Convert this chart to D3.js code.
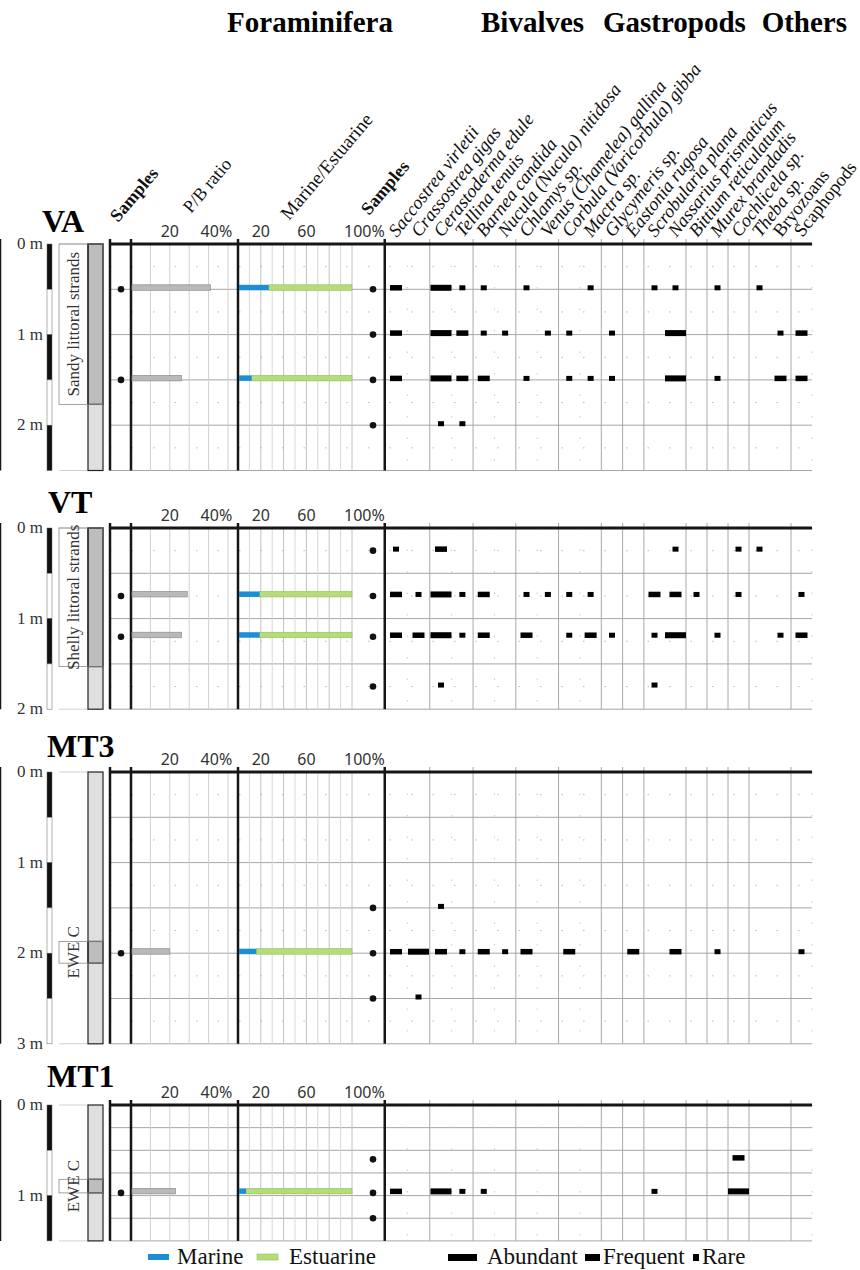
<!DOCTYPE html>
<html lang="en">
<head>
<meta charset="UTF-8">
<title>Foraminifera and mollusc assemblages</title>
<script src="https://d3js.org/d3.v7.min.js"></script>
<style>
  body { margin: 0; background: #fff; }
</style>
</head>
<body>
<svg id="chart" width="860" height="1270"></svg>
<script>
// ---------- data ----------
const groupTitles = ["Bivalves", "Gastropods", "Others"];
const groupSizes = [13, 5, 2];
const species = [
  "Saccostrea virletii", "Crassostrea gigas", "Cerastoderma edule", "Tellina tenuis",
  "Barnea candida", "Nucula (Nucula) nitidosa", "Chlamys sp.", "Venus (Chamelea) gallina",
  "Corbula (Varicorbula) gibba", "Mactra sp.", "Glycymeris sp.", "Eastonia rugosa",
  "Scrobularia plana", "Nassarius prismaticus", "Bittium reticulatum", "Murex brandadis",
  "Cochlicela sp.", "Theba sp.", "Bryozoans", "Scaphopods"
];
const italicSpecies = 18; // the last two are not taxa names in italics

const panelNames = ["VA", "VT", "MT3", "MT1"];
const panelDepths = [2.5, 2, 3, 1.5];
const unitNames = ["Sandy littoral strands", "Shelly littoral strands", "EWE C", "EWE C"];
const unitTops = [0, 0, 1.87, 0.82];
const unitBottoms = [1.77, 1.53, 2.11, 0.97];

// foraminifera samples
const foramDepths = [[0.5, 1.5], [0.75, 1.2], [2.0], [0.97]];
const pbRatio = [[41, 26], [29, 26], [20], [23]];
const marinePct = [[27, 12], [19, 19], [16], [7]];

// mollusc samples; one string per sample, one character per species
// A = abundant, F = frequent, R = rare, . = absent
const molluscDepths = [[0.5, 1, 1.5, 2], [0.25, 0.75, 1.2, 1.75], [1.5, 2, 2.5], [0.6, 0.97, 1.25]];
const abundance = [
  ["F.ARR.R..R..RR.R.R..",
   "F.AFRR.RR.R..A....RF",
   "F.AFF.R.RRR..A.R..FF",
   "..RR................"],
  ["R.F..........R..RR..",
   "FRARF.RRRR..FFR.R..R",
   "FFARF.F.RFR.RA.R..RF",
   "..R.........R......."],
  ["..R.................",
   "FAFRFRF.F..F.F.R...R",
   ".R.................."],
  ["................F...",
   "F.ARR.......R...A...",
   "...................."]
];

const pbTicks = [20, 40], pbTickLabels = ["20", "40%"];
const meTicks = [20, 60, 100], meTickLabels = ["20", "60", "100%"];
const foramLegend = ["Marine", "Estuarine"];
const molluscLegend = ["Abundant", "Frequent", "Rare"];

// ---------- layout ----------
const serif = '"Liberation Serif", "Times New Roman", "DejaVu Serif", serif';
const sans = '"Noto Sans", "Open Sans", sans-serif';
const panelTop = [244, 528, 772, 1105];
const panelLabelY = [232, 513, 757, 1087];
const panelLabelX = [42, 48, 47, 47];
const mPx = 90.6;
const plotLeft = 110, plotRight = 812;
const sampleX1 = 121, sampleX2 = 373;

const pbX = d3.scaleLinear().domain([0, 50]).range([131, 228]);
const meX = d3.scaleLinear().domain([0, 100]).range([238, 352]);
const spX = d3.scaleLinear().domain([0, 2, 10, 12, 19]).range([396, 441, 612, 654.5, 801.5]);

const markW = { A: 21, F: 12, R: 6 };
const markH = { A: 6, F: 5.5, R: 5 };
const colors = { marine: "#1c8ed6", estuarine: "#b6dc7a", estStroke: "#8fbf58", pb: "#b9b9b9", pbStroke: "#8e8e8e" };

const svg = d3.select("#chart")
  .attr("font-family", serif);

// group boundaries in species index units
const groupEnds = d3.cumsum(groupSizes).map(v => v - 0.5);

// ---------- titles ----------
svg.append("text")
  .attr("x", 310).attr("y", 32)
  .attr("text-anchor", "middle")
  .attr("font-size", 29).attr("font-weight", "bold")
  .text("Foraminifera");

const groupTitleX = [481, 603, 847];
const groupTitleAnchor = ["start", "start", "end"];
svg.selectAll(".group-title")
  .data(groupTitles)
  .enter().append("text")
  .attr("class", "group-title")
  .attr("x", (d, i) => groupTitleX[i]).attr("y", 32)
  .attr("text-anchor", (d, i) => groupTitleAnchor[i])
  .attr("font-size", 29).attr("font-weight", "bold")
  .text(d => d);

// rotated column headers (only above the first panel)
function rotLabel(x, y, txt, size, angle, weight, style) {
  svg.append("text")
    .attr("transform", `translate(${x},${y}) rotate(${angle})`)
    .attr("font-size", size)
    .attr("font-weight", weight || "normal")
    .attr("font-style", style || "normal")
    .attr("fill", "#111")
    .text(txt);
}
rotLabel(118, 223, "Samples", 18, -50, "bold");
rotLabel(191, 214, "P/B ratio", 18, -50);
rotLabel(289, 221, "Marine/Estuarine", 19, -50);
rotLabel(369, 216, "Samples", 18, -50, "bold");
species.forEach((s, i) => {
  rotLabel(spX(i) + 1, 238, s, 18.5, -52, "normal", i < italicSpecies ? "italic" : "normal");
});

// ---------- panels ----------
panelNames.forEach((name, p) => {
  const depth = panelDepths[p];
  const top = panelTop[p];
  const y = d3.scaleLinear().domain([0, depth]).range([top, top + depth * mPx]);
  const bottom = y(depth);
  const g = svg.append("g");

  // panel name
  g.append("text")
    .attr("x", panelLabelX[p]).attr("y", panelLabelY[p])
    .attr("font-size", 32).attr("font-weight", "bold")
    .text(name);

  // tick labels
  const tickText = (x, lab) => {
    const pct = lab.endsWith("%");
    g.append("text")
      .attr("x", pct ? x - 8 : x).attr("y", top - 7)
      .attr("text-anchor", pct ? "start" : "middle")
      .attr("font-family", sans).attr("fill", "#333")
      .attr("font-size", 16).text(lab);
  };
  pbTicks.forEach((t, i) => tickText(pbX(t), pbTickLabels[i]));
  meTicks.forEach((t, i) => tickText(meX(t), meTickLabels[i]));

  // depth scale bar
  const segs = d3.range(0, depth - 0.001, 0.5);
  g.selectAll(".seg").data(segs).enter().append("rect")
    .attr("x", 47).attr("width", 5)
    .attr("y", d => y(d)).attr("height", d => y(d + 0.5) - y(d))
    .attr("fill", (d, i) => i % 2 === 0 ? "#111" : "#fff")
    .attr("stroke", "#666").attr("stroke-width", 0.5);
  g.selectAll(".dlab").data(d3.range(0, depth + 0.001, 1)).enter().append("text")
    .attr("x", 43).attr("y", d => y(d) + 5)
    .attr("text-anchor", "end").attr("font-size", 17).attr("fill", "#333")
    .text(d => `${d} m`);

  // label area edges
  [top, bottom].forEach(v => {
    g.append("line").attr("x1", 59).attr("x2", 88).attr("y1", v).attr("y2", v)
      .attr("stroke", "#c4c4c4").attr("stroke-width", 0.8);
  });

  // lithology column
  g.append("rect").attr("x", 88).attr("width", 15)
    .attr("y", top).attr("height", bottom - top)
    .attr("fill", "#dfdfdf");
  g.append("rect").attr("x", 88).attr("width", 15)
    .attr("y", y(unitTops[p])).attr("height", y(unitBottoms[p]) - y(unitTops[p]))
    .attr("fill", "#bdbdbd").attr("stroke", "#222").attr("stroke-width", 1.2);
  g.append("rect").attr("x", 88).attr("width", 15)
    .attr("y", top).attr("height", bottom - top)
    .attr("fill", "none").attr("stroke", "#222").attr("stroke-width", 1.2);
  g.append("rect").attr("x", 59).attr("width", 44)
    .attr("y", y(unitTops[p])).attr("height", y(unitBottoms[p]) - y(unitTops[p]))
    .attr("fill", "none").attr("stroke", "#8a8a8a").attr("stroke-width", 0.8);
  const uc = (y(unitTops[p]) + y(unitBottoms[p])) / 2;
  g.append("text")
    .attr("transform", `translate(73,${uc}) rotate(-90)`)
    .attr("text-anchor", "middle").attr("dominant-baseline", "central")
    .attr("font-size", 17).attr("fill", "#333")
    .text(unitNames[p]);

  // horizontal grid
  const allSolid = name === "MT1";
  d3.range(0.25, depth + 0.001, 0.25).forEach(d => {
    const major = allSolid || Math.abs(d * 2 - Math.round(d * 2)) < 0.001 || Math.abs(d - depth) < 0.001;
    g.append("line")
      .attr("x1", plotLeft).attr("x2", plotRight)
      .attr("y1", y(d)).attr("y2", y(d))
      .attr("stroke", major ? "#a6a6a6" : "#b8b8b8")
      .attr("stroke-dasharray", major ? null : "1.5,20");
  });

  // vertical grid, foraminifera
  d3.range(10, 51, 10).forEach(v => {
    g.append("line").attr("x1", pbX(v)).attr("x2", pbX(v))
      .attr("y1", top).attr("y2", bottom).attr("stroke", "#cfcfcf");
  });
  d3.range(10, 91, 10).forEach(v => {
    g.append("line").attr("x1", meX(v)).attr("x2", meX(v))
      .attr("y1", top).attr("y2", bottom).attr("stroke", v % 20 === 0 ? "#c2c2c2" : "#d8d8d8");
  });
  g.append("line").attr("x1", meX(100)).attr("x2", meX(100))
    .attr("y1", top).attr("y2", bottom).attr("stroke", "#c2c2c2");

  // vertical grid, molluscs
  d3.range(0, species.length).forEach(k => {
    const b = k + 0.5;
    if (groupEnds.slice(0, -1).includes(b)) return;
    const faint = (k < 10 && k % 2 === 0) || k === species.length - 1;
    g.append("line").attr("x1", spX(b)).attr("x2", spX(b))
      .attr("y1", faint ? top : top - 5).attr("y2", bottom)
      .attr("stroke", faint ? "#c8c8c8" : "#a8a8a8")
      .attr("stroke-dasharray", faint ? "1.5,20" : null);
  });

  // thick column separators
  const seps = [plotLeft, pbX(0), meX(0), spX(-0.5)].concat(groupEnds.slice(0, -1).map(spX));
  seps.forEach(x => {
    g.append("line").attr("x1", x).attr("x2", x)
      .attr("y1", top - 5).attr("y2", bottom)
      .attr("stroke", "#161616").attr("stroke-width", 2.5);
  });
  g.append("line").attr("x1", plotLeft - 1).attr("x2", plotRight)
    .attr("y1", top).attr("y2", top)
    .attr("stroke", "#161616").attr("stroke-width", 3);

  // foraminifera bars
  const fr = foramDepths[p].map((d, j) => ({ d, pb: pbRatio[p][j], m: marinePct[p][j] }));
  g.selectAll(".pb").data(fr).enter().append("rect")
    .attr("x", pbX(0) + 1).attr("y", d => y(d.d) - 4.5)
    .attr("width", d => pbX(d.pb) - pbX(0) - 1).attr("height", 5.5)
    .attr("fill", colors.pb).attr("stroke", colors.pbStroke).attr("stroke-width", 0.7);
  g.selectAll(".est").data(fr).enter().append("rect")
    .attr("x", d => meX(d.m)).attr("y", d => y(d.d) - 4.5)
    .attr("width", d => meX(100) - meX(d.m)).attr("height", 5.5)
    .attr("fill", colors.estuarine).attr("stroke", colors.estStroke).attr("stroke-width", 0.6);
  g.selectAll(".mar").data(fr).enter().append("rect")
    .attr("x", meX(0) + 1).attr("y", d => y(d.d) - 4.5)
    .attr("width", d => meX(d.m) - meX(0) - 1).attr("height", 5.5)
    .attr("fill", colors.marine);
  g.selectAll(".fdot").data(fr).enter().append("circle")
    .attr("cx", sampleX1).attr("cy", d => y(d.d)).attr("r", 3.3).attr("fill", "#111");

  // mollusc samples
  molluscDepths[p].forEach((d, j) => {
    g.append("circle").attr("cx", sampleX2).attr("cy", y(d)).attr("r", 3.3).attr("fill", "#111");
    const marks = abundance[p][j].split("")
      .map((c, i) => ({ c, i }))
      .filter(m => m.c !== ".");
    g.selectAll(null).data(marks).enter().append("rect")
      .attr("x", m => spX(m.i) - markW[m.c] / 2)
      .attr("width", m => markW[m.c])
      .attr("y", m => y(d) - 1.5 - markH[m.c] / 2)
      .attr("height", m => markH[m.c])
      .attr("fill", "#000");
  });
});

// ---------- legend ----------
const legY = 1264;
const foramLegX = [148, 257], foramTextX = [177, 289];
foramLegend.forEach((l, i) => {
  svg.append("rect").attr("x", foramLegX[i]).attr("y", legY - 10).attr("width", 21).attr("height", 6)
    .attr("fill", i === 0 ? colors.marine : colors.estuarine)
    .attr("stroke", i === 0 ? "none" : colors.estStroke).attr("stroke-width", 0.6);
  svg.append("text").attr("x", foramTextX[i]).attr("y", legY)
    .attr("font-size", 23).attr("fill", "#111").text(l);
});
const molLegX = [448, 585, 693], molLegW = [29, 15, 6], molTextX = [487, 603, 702];
molluscLegend.forEach((l, i) => {
  svg.append("rect").attr("x", molLegX[i]).attr("y", legY - 10).attr("width", molLegW[i]).attr("height", 7)
    .attr("fill", "#000");
  svg.append("text").attr("x", molTextX[i]).attr("y", legY)
    .attr("font-size", 23).attr("fill", "#111").text(l);
});
</script>
</body>
</html>
